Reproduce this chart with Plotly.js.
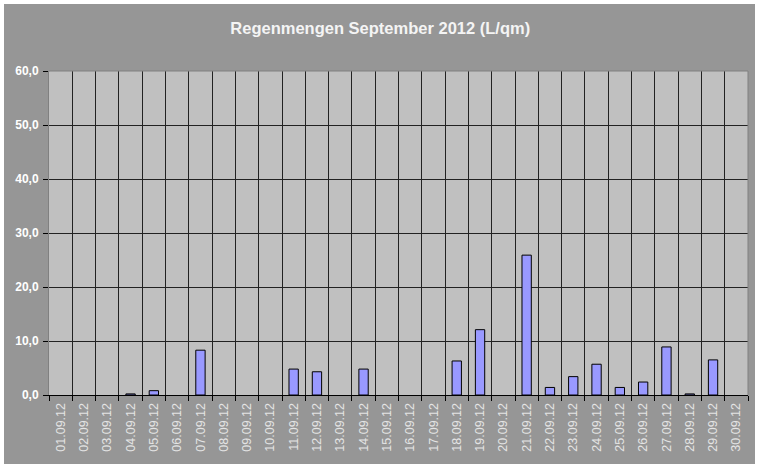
<!DOCTYPE html>
<html>
<head>
<meta charset="utf-8">
<script src="https://cdn.plot.ly/plotly-3.0.1.min.js"></script>
<style>
  html, body { margin: 0; padding: 0; background: #ffffff; }
  #wrap { position: relative; width: 760px; height: 468px; background: #ffffff; }
  #chart { position: absolute; left: 4px; top: 4px; width: 751px; height: 460px; }
</style>
</head>
<body>
<div id="wrap"><div id="chart"></div></div>
<script>
const dates = ["01.09.12","02.09.12","03.09.12","04.09.12","05.09.12","06.09.12","07.09.12","08.09.12","09.09.12","10.09.12",
               "11.09.12","12.09.12","13.09.12","14.09.12","15.09.12","16.09.12","17.09.12","18.09.12","19.09.12","20.09.12",
               "21.09.12","22.09.12","23.09.12","24.09.12","25.09.12","26.09.12","27.09.12","28.09.12","29.09.12","30.09.12"];
const rain = [0, 0, 0, 0.2, 0.8, 0, 8.3, 0, 0, 0,
              4.8, 4.3, 0, 4.8, 0, 0, 0, 6.3, 12.1, 0,
              25.9, 1.4, 3.4, 5.7, 1.4, 2.4, 8.9, 0.2, 6.5, 0];
const yTicks = [0, 10, 20, 30, 40, 50, 60];
const titleText = "Regenmengen September 2012 (L/qm)";

const font = "Arial, 'Liberation Sans', sans-serif";

// zero-rain days draw no bar (as in the reference)
const rainShown = rain.map(v => (v === 0 ? null : v));

const trace = {
  type: "bar",
  x: dates,
  y: rainShown,
  width: 0.4,
  marker: { color: "#9999ff", line: { color: "#000000", width: 1 } },
  hoverinfo: "x+y"
};

const layout = {
  width: 751,
  height: 460,
  margin: { l: 45, r: 7, t: 67, b: 69, pad: 0 },
  paper_bgcolor: "#969696",
  plot_bgcolor: "#c0c0c0",
  separators: ",.",
  showlegend: false,
  title: {
    text: titleText,
    font: { family: font, size: 16.5, color: "#f4f4f4", weight: "bold" },
    x: 0.501, xref: "container", xanchor: "center",
    y: 1 - 24 / 460, yref: "container", yanchor: "middle"
  },
  xaxis: {
    type: "category",
    tickson: "boundaries",
    ticks: "outside",
    ticklen: 5,
    tickcolor: "#000000",
    tickwidth: 1,
    tickangle: -90,
    ticklabelstandoff: 2,
    tickfont: { family: font, size: 12.5, color: "#e4e4e4" },
    showgrid: true,
    gridcolor: "#222222",
    gridwidth: 1,
    showline: true,
    linecolor: "#000000",
    linewidth: 1,
    mirror: false,
    range: [-0.5, dates.length - 0.5],
    fixedrange: true
  },
  yaxis: {
    range: [0, 60],
    tickvals: yTicks,
    tickformat: ".1f",
    ticks: "outside",
    ticklen: 5,
    tickcolor: "#000000",
    tickwidth: 1,
    ticklabelstandoff: 2,
    tickfont: { family: font, size: 12, color: "#ffffff", weight: "bold" },
    showgrid: true,
    gridcolor: "#222222",
    gridwidth: 1,
    zeroline: true,
    zerolinecolor: "#000000",
    zerolinewidth: 1,
    showline: true,
    linecolor: "#808080",
    linewidth: 1,
    fixedrange: true
  },
  shapes: [
    { type: "line", xref: "paper", yref: "paper", x0: 1, x1: 1, y0: 0, y1: 1,
      line: { color: "#808080", width: 1 }, layer: "above" },
    { type: "line", xref: "paper", yref: "paper", x0: 0, x1: 1, y0: 1, y1: 1,
      line: { color: "#808080", width: 1 }, layer: "above" }
  ]
};

Plotly.newPlot("chart", [trace], layout, { displayModeBar: false, staticPlot: true });
</script>
</body>
</html>
